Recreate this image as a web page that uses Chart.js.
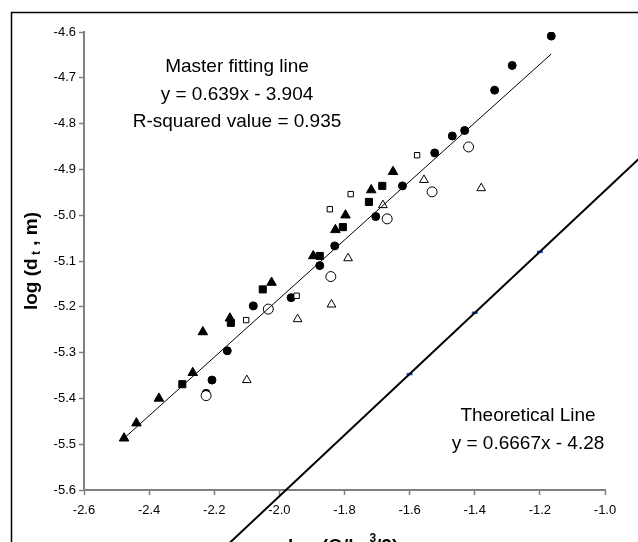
<!DOCTYPE html>
<html>
<head>
<meta charset="utf-8">
<script src="https://cdn.jsdelivr.net/npm/chart.js@4.4.0/dist/chart.umd.min.js"></script>
<style>
  body { margin: 0; background: #fff; }
  #wrap { width: 638px; height: 542px; }
</style>
</head>
<body>
<div id="wrap"><canvas id="chart" width="638" height="542"></canvas></div>
<script>
// measured points, [log(Q/..), log(dt)]
const filledCircleX = [-1.165, -1.285, -1.339, -1.431, -1.469, -1.523, -1.622, -1.704, -1.830, -1.876, -1.964, -2.080, -2.160, -2.207, -2.225];
const filledCircleY = [-4.609, -4.673, -4.727, -4.815, -4.827, -4.864, -4.936, -5.003, -5.067, -5.110, -5.180, -5.198, -5.296, -5.360, -5.389];

const filledTriX = [-1.651, -1.718, -1.797, -1.828, -1.896, -2.024, -2.152, -2.235, -2.266, -2.370, -2.439, -2.477];
const filledTriY = [-4.905, -4.945, -5.000, -5.032, -5.089, -5.147, -5.225, -5.255, -5.344, -5.400, -5.454, -5.487];

const filledSqX = [-1.684, -1.725, -1.805, -1.876, -2.051, -2.149, -2.298];
const filledSqY = [-4.936, -4.971, -5.026, -5.089, -5.162, -5.235, -5.369];

const openSqX = [-1.577, -1.781, -1.845, -1.947, -2.102];
const openSqY = [-4.869, -4.954, -4.987, -5.176, -5.229];

const openCircleX = [-1.419, -1.531, -1.669, -1.842, -2.034, -2.225];
const openCircleY = [-4.851, -4.949, -5.008, -5.134, -5.205, -5.394];

const openTriX = [-1.380, -1.556, -1.682, -1.789, -1.840, -1.944, -2.100];
const openTriY = [-4.941, -4.923, -4.978, -5.094, -5.195, -5.227, -5.360];

// fitted line y = 0.639x - 3.904 and theoretical y = 0.6667x - 4.28
const masterLineX = [-2.48, -1.165];
const masterLineY = [-5.489, -4.648];
const theoryLineX = [-2.2, -0.8];
const theoryLineY = [-5.747, -4.813];
const theoryMarkX = [-1.6, -1.4, -1.2];
const theoryMarkY = [-5.347, -5.213, -5.080];

function pts( xs, ys ){
    return xs.map( ( x, i ) => ({ x: x, y: ys[i] }) );
}

function marker( data, style, radius, filled ){
    return {
        type: 'scatter',
        data: data,
        pointStyle: style,
        pointRadius: radius,
        pointHoverRadius: radius,
        pointBorderWidth: 1,
        pointBackgroundColor: filled ? '#000' : '#fff',
        pointBorderColor: '#000'
    };
}

const textPlugin = {
    id: 'texts',
    afterDraw( chart ){
        const ctx = chart.ctx;
        ctx.save();

        // outer frame
        ctx.strokeStyle = '#000';
        ctx.lineWidth = 1.5;
        ctx.strokeRect( 11.5, 12.5, 700, 600 );

        ctx.fillStyle = '#000';
        ctx.textBaseline = 'alphabetic';
        ctx.textAlign = 'center';
        ctx.font = '19px "Liberation Sans", Arial, sans-serif';
        ctx.fillText( 'Master fitting line', 237, 72 );
        ctx.fillText( 'y = 0.639x - 3.904', 237, 100 );
        ctx.fillText( 'R-squared value = 0.935', 237, 127 );
        ctx.fillText( 'Theoretical Line', 528, 421 );
        ctx.fillText( 'y = 0.6667x - 4.28', 528, 449 );

        // y title with subscript
        const big = 'bold 19px "Liberation Sans", Arial, sans-serif';
        const small = 'bold 12px "Liberation Sans", Arial, sans-serif';
        ctx.textAlign = 'left';
        ctx.translate( 37, 261 );
        ctx.rotate( -Math.PI / 2 );
        let parts = [ [ 'log (d', big, 0 ], [ ' t', small, 3 ], [ ' , m)', big, 0 ] ];
        let w = 0;
        parts.forEach( p => { ctx.font = p[1]; w += ctx.measureText( p[0] ).width; } );
        let cx = -w / 2;
        parts.forEach( p => {
            ctx.font = p[1];
            ctx.fillText( p[0], cx, p[2] );
            cx += ctx.measureText( p[0] ).width;
        });
        ctx.setTransform( 1, 0, 0, 1, 0, 0 );

        // x title, mostly cut off at the bottom
        parts = [ [ 'log (Q/k', big, 0 ], [ 'm', small, 4 ], [ '3', small, -10 ], [ '/2)', big, 0 ] ];
        cx = 288;
        parts.forEach( p => {
            ctx.font = p[1];
            ctx.fillText( p[0], cx, 552 + p[2] );
            cx += ctx.measureText( p[0] ).width;
        });

        ctx.restore();
    }
};

const tickFont = { family: '"Liberation Sans", Arial, sans-serif', size: 13 };

new Chart( document.getElementById('chart'), {
    type: 'scatter',
    data: {
        datasets: [
            {
                type: 'line',
                data: pts( masterLineX, masterLineY ),
                borderColor: '#000',
                borderWidth: 1,
                pointRadius: 0,
                fill: false
            },
            {
                type: 'line',
                data: pts( theoryLineX, theoryLineY ),
                borderColor: '#000',
                borderWidth: 2,
                pointRadius: 0,
                fill: false,
                clip: false
            },
            {
                type: 'scatter',
                data: pts( theoryMarkX, theoryMarkY ),
                pointStyle: 'line',
                pointRadius: 3,
                pointBorderWidth: 2.5,
                pointBorderColor: '#1f5fd6'
            },
            marker( pts( openTriX, openTriY ), 'triangle', 5, false ),
            marker( pts( openCircleX, openCircleY ), 'circle', 5, false ),
            marker( pts( openSqX, openSqY ), 'rect', 3.8, false ),
            marker( pts( filledSqX, filledSqY ), 'rect', 5, true ),
            marker( pts( filledTriX, filledTriY ), 'triangle', 5.5, true ),
            marker( pts( filledCircleX, filledCircleY ), 'circle', 4, true )
        ]
    },
    options: {
        responsive: false,
        animation: false,
        layout: { padding: { top: 32, right: 33, left: 0, bottom: 0 } },
        plugins: {
            legend: { display: false },
            tooltip: { enabled: false }
        },
        scales: {
            x: {
                type: 'linear',
                min: -2.6,
                max: -1.0,
                afterFit: ( scale ) => { scale.height = 52; },
                ticks: {
                    stepSize: 0.2,
                    color: '#000',
                    font: tickFont,
                    padding: 8,
                    callback: ( v ) => v.toFixed( 1 )
                },
                grid: { drawOnChartArea: false, tickLength: 5, tickColor: '#808080', tickWidth: 1.5 },
                border: { color: '#808080', width: 2 }
            },
            y: {
                type: 'linear',
                min: -5.6,
                max: -4.6,
                afterFit: ( scale ) => { scale.width = 84; },
                ticks: {
                    stepSize: 0.1,
                    color: '#000',
                    font: tickFont,
                    padding: 3,
                    callback: ( v ) => v.toFixed( 1 )
                },
                grid: { drawOnChartArea: false, tickLength: 5, tickColor: '#808080', tickWidth: 1.5 },
                border: { color: '#808080', width: 2 }
            }
        }
    },
    plugins: [ textPlugin ]
});
</script>
</body>
</html>
